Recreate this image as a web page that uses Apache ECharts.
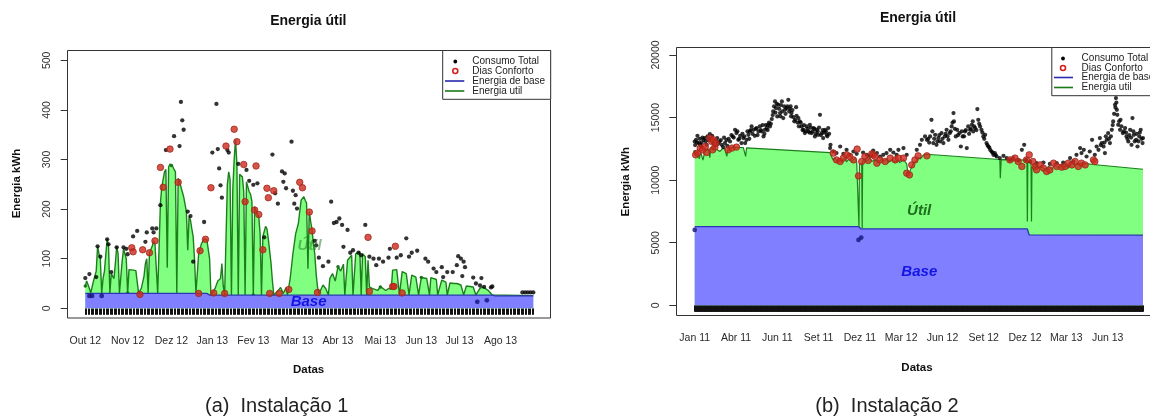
<!DOCTYPE html>
<html><head><meta charset="utf-8">
<script src="https://cdn.jsdelivr.net/npm/echarts@6/dist/echarts.min.js"></script>
<style>html,body{margin:0;padding:0;background:#fff}#c{width:1150px;height:417px}</style>
</head><body><div id="c"></div>
<script>
const FONT = "'Liberation Sans', Arial, Helvetica, sans-serif";

// ---------------- Panel (a): Instalação 1 (daily, Oct 2012 - Aug 2013) ----------------
const nDaysA = 329;
const tickIdxA = [0, 31, 63, 93, 123, 155, 185, 216, 246, 274, 304];
const tickLabelsA = ['Out 12','Nov 12','Dez 12','Jan 13','Fev 13','Mar 13','Abr 13','Mai 13','Jun 13','Jul 13','Ago 13'];
const baseA = [[0,30],[89,30],[91,26.5],[298,26.5],[300,25],[328,25]];
const utilA = [[0,45],[1,55],[3,40],[4,31],[6,55],[8,75],[9,125],[10,110],[11,100],[12,31],[13,60],[14,75],[16,140],[17,125],[18,31],[19,70],[21,60],[22,90],[23,125],[24,110],[25,31],[27,95],[28,120],[29,120],[30,100],[31,31],[32,78],[35,77],[37,76],[38,75],[39,31],[41,40],[43,65],[44,90],[45,100],[46,31],[47,112],[49,125],[50,136],[51,130],[52,80],[53,31],
[54,31],[55,212],[56,245],[57,260],[58,275],[59,280],[60,82],[61,285],[62,291],[63,288],[64,286],[65,280],[66,275],[67,31],[68,262],[69,255],[70,245],[72,225],[74,195],[75,117],[76,185],[77,178],[78,160],[79,144],[80,97],[81,31],
[82,31],[83,110],[85,130],[87,140],[89,138],[90,135],[91,100],[92,27],[95,40],[97,55],[99,60],[100,90],[101,45],[102,27],
[103,27],[104,250],[105,275],[106,260],[107,27],[108,240],[109,300],[110,340],[111,290],[112,27],[113,270],[115,265],[116,235],[117,27],[118,255],[120,235],[121,230],[122,215],[123,27],[124,205],[126,190],[127,185],[128,150],[129,27],[130,145],[132,165],[133,160],[134,140],[136,90],[137,55],[138,27],
[139,27],[141,35],[143,42],[145,30],[147,42],[148,27],[150,60],[152,110],[154,150],[156,171],[158,218],[159,222],[160,225],[161,218],[162,212],[163,80],[164,195],[165,175],[166,158],[167,130],[168,110],[169,70],[170,43],[171,30],
[172,35],[174,47],[176,40],[178,27],[179,60],[181,70],[183,55],[185,84],[187,75],[189,89],[190,27],[192,97],[195,107],[196,27],[198,110],[201,114],[202,27],[203,110],[205,104],[206,27],[207,97],[208,43],
[210,40],[212,38],[214,36],[216,43],[218,40],[220,36],[222,40],[224,38],
[225,77],[228,78],[230,27],[232,74],[235,70],[237,27],[239,67],[242,63],[244,27],
[246,62],[250,60],[252,27],[253,62],[257,58],[258,27],[261,57],[264,53],[265,27],[267,51],[270,50],
[272,50],[275,47],[277,27],[279,45],[284,43],[286,27],[289,40],[291,43],[295,36],[298,27],[299,26],[328,25.5]];
const consumoA = [[0,61],[3,69],[8,63],[9,125],[11,104],[16,139],[17,129],[19,73],[23,123],[28,123],[30,120],[31,109],[35,145],[38,156],[44,134],[45,153],[49,161],[50,153],[52,161],[55,208],[59,319],[65,347],[69,327],[70,416],[71,379],[72,360],[75,195],[77,186],[79,94],[87,174],[93,314],[96,412],[97,321],[98,282],[99,248],[100,223],[104,319],[105,314],[112,291],[118,279],[120,257],[123,249],[126,252],[131,143],[137,310],[139,232],[141,211],[144,276],[145,255],[146,272],[147,242],[151,336],[152,237],[153,211],[154,228],[155,201],[168,136],[169,127],[171,102],[174,85],[178,94],[180,215],[182,172],[184,174],[186,181],[188,168],[189,124],[192,158],[194,112],[196,117],[200,112],[202,107],[205,168],[208,104],[211,100],[213,87],[215,100],[218,94],[222,102],[223,120],[228,102],[231,107],[235,141],[237,104],[239,112],[243,116],[249,100],[251,94],[255,80],[257,73],[261,83],[262,63],[265,73],[269,73],[272,87],[273,105],[275,100],[276,65],[277,94],[278,83],[284,62],[286,50],[289,46],[290,61],[292,43],[297,42],[298,44],[320,32],[322,32],[324,32],[326,32],[328,32]];
const confortoA = [[34,122],[35,114],[40,28],[42,118],[47,112],[51,136],[55,284],[57,244],[62,321],[68,254],[83,30],[84,116],[88,139],[92,243],[94,31],[102,30],[103,327],[109,361],[111,336],[116,290],[117,215],[124,198],[125,287],[127,189],[130,118],[133,242],[134,223],[135,30],[138,237],[142,30],[149,38],[157,254],[159,243],[164,194],[166,156],[170,32],[207,143],[208,34],[225,44],[226,44],[227,125],[232,31]];
const baseDotsA = [[3,25],[5,25],[12,25],[287,13],[294,16]];

// ---------------- Panel (b): Instalação 2 (daily, Jan 2011 - Sep 2013) ----------------
const nDaysB = 978;
const tickIdxB = [0, 90, 180, 270, 360, 450, 540, 630, 720, 810, 900];
const tickLabelsB = ['Jan 11','Abr 11','Jun 11','Set 11','Dez 11','Mar 12','Jun 12','Set 12','Dez 12','Mar 13','Jun 13'];
const baseB = [[0,6290],[358,6290],[362,6100],[725,6100],[729,5620],[977,5600]];
const utilB = [[0,12290],[2,12100],[4,12000],[7,12300],[10,11700],[13,12250],[15,12200],[18,11600],[20,11550],[22,12300],[25,12450],[30,12500],[33,11800],[35,12550],[40,12500],[44,12600],[48,12450],[52,12550],[55,12300],[60,12500],[65,12550],[70,11900],[73,12600],[77,12650],[85,12620],[91,12630],[100,12610],[106,12600],[110,12600],[111,11900],[113,12580],[295,12200],[298,11900],[302,11600],[306,11800],[309,11500],[313,11700],[316,11750],[320,11450],[324,11600],[328,11800],[331,11450],[335,11650],[338,11700],[342,11500],[346,11650],[350,11800],[353,11500],[357,11400],[358,6300],[359,11300],[364,11300],[365,6150],[366,11500],[370,11700],[374,11500],[378,11650],[382,11750],[386,11500],[389,11400],[393,11600],[397,11700],[400,11450],[404,11600],[408,11700],[411,11500],[415,11600],[418,11700],[422,11400],[426,11550],[430,11650],[433,11600],[437,11450],[440,11500],[444,11600],[447,11400],[451,11550],[455,11650],[458,11600],[462,11300],[465,10500],[467,10450],[469,10700],[472,11000],[476,11300],[480,11400],[484,11600],[487,11800],[492,11700],[498,12000],[505,12050],[513,12050],[665,11650],[666,10150],[668,11640],[724,11600],[725,6700],[726,11500],[733,11400],[734,6700],[735,11000],[738,10900],[742,11200],[745,11300],[749,11000],[752,10850],[756,11150],[760,11100],[763,10800],[767,10800],[771,11100],[774,11200],[778,10850],[782,10900],[785,11200],[789,11300],[792,11000],[796,11100],[800,11250],[803,11000],[807,11100],[811,11200],[814,10950],[818,10900],[822,11400],[826,11250],[829,11200],[833,11350],[836,11300],[840,11200],[847,11400],[852,11300],[858,11300],[862,11350],[868,11250],[871,11250],[872,11100],[977,10870]];
const consumoB = [[0,13090],[1,12800],[3,13220],[5,13000],[6,13540],[9,12960],[11,13300],[12,12820],[14,12700],[15,13010],[17,13400],[19,13220],[22,13360],[24,13100],[26,12820],[28,13500],[30,13220],[33,13680],[35,13300],[38,13540],[40,13000],[41,13220],[44,12740],[47,13100],[49,13360],[51,12900],[54,13090],[57,13200],[59,12820],[62,12640],[64,13400],[66,12960],[69,13200],[71,12740],[74,13300],[77,13090],[80,13600],[83,13490],[85,13400],[88,14020],[91,13760],[93,13900],[95,13220],[97,13300],[99,13540],[102,12960],[104,13700],[106,13360],[108,13500],[110,12960],[113,13220],[115,13900],[117,13620],[119,13300],[120,13890],[122,14000],[124,14290],[126,13700],[128,14020],[131,13540],[133,14100],[135,14160],[137,13600],[139,13890],[142,14290],[144,14000],[146,13890],[148,14400],[150,13490],[152,13700],[153,14020],[155,14400],[157,14160],[159,14000],[160,14420],[162,14600],[164,14290],[166,14500],[168,14880],[170,15200],[171,15490],[173,15900],[175,16290],[176,15400],[177,15760],[179,16100],[180,15090],[182,16020],[184,15700],[186,15360],[187,15100],[188,16000],[190,16290],[191,15500],[193,14960],[195,15900],[197,15620],[198,15300],[200,15760],[202,15900],[204,16420],[206,15490],[207,15700],[209,15890],[210,15100],[211,15360],[213,15600],[215,15040],[217,14700],[219,14820],[221,15830],[222,15140],[224,14600],[226,14960],[227,14300],[229,14690],[231,14600],[233,14290],[235,14000],[237,14020],[238,14400],[240,13760],[242,13900],[244,14290],[246,14100],[248,13890],[250,13800],[251,14420],[253,14200],[255,13760],[257,13900],[259,14160],[261,14100],[262,13490],[264,13700],[266,14020],[268,13900],[269,13620],[271,14200],[273,15220],[275,13600],[277,13760],[279,14000],[280,13360],[282,13800],[284,14020],[286,13900],[288,13620],[289,13500],[291,14160],[293,13700],[295,12560],[296,12820],[302,12290],[309,12160],[317,12690],[324,12100],[331,12420],[338,12020],[346,12290],[353,12100],[367,12210],[375,12020],[382,11940],[389,12370],[397,12160],[404,11890],[411,12020],[418,12160],[426,12420],[433,12210],[440,12020],[444,12420],[455,12560],[462,12020],[484,12420],[491,12820],[495,13220],[502,13490],[506,13220],[509,13300],[511,13000],[513,13490],[516,14820],[518,13900],[520,12960],[522,13300],[524,13620],[527,12820],[529,13100],[531,13360],[533,13600],[535,13090],[538,13760],[540,13300],[542,12960],[545,13490],[547,13700],[549,14020],[551,13500],[553,13220],[556,13760],[558,13900],[560,14290],[562,14600],[564,15360],[565,14690],[567,14100],[569,13490],[572,14020],[574,13600],[577,13760],[580,12690],[582,13900],[584,13490],[587,13500],[589,13890],[591,14000],[593,12560],[596,14290],[598,13700],[600,14020],[602,14100],[604,14420],[606,14700],[607,13890],[609,14300],[611,14160],[614,14000],[616,15680],[618,14820],[620,14500],[622,14290],[625,14020],[627,13800],[629,13490],[631,13300],[633,13620],[636,12960],[638,12800],[640,12690],[642,12600],[644,12420],[647,12290],[649,12200],[651,12020],[654,12160],[656,12000],[658,11890],[665,11760],[673,11940],[680,11760],[687,11620],[694,11760],[705,11570],[713,12420],[718,12820],[722,11620],[731,11490],[745,11360],[760,11410],[774,11300],[789,11360],[803,11410],[818,11760],[825,11490],[832,12020],[840,12560],[843,12160],[848,12420],[854,11890],[861,12290],[866,13220],[872,12020],[876,12690],[880,12420],[883,13360],[885,12800],[887,12960],[891,12690],[893,13000],[894,12160],[896,13500],[898,13220],[901,13760],[903,13300],[905,12960],[907,13500],[909,14020],[911,14400],[912,14690],[914,15300],[916,16020],[917,15800],[918,16560],[919,16200],[920,15620],[921,15220],[923,14420],[925,14700],[927,14020],[928,14820],[930,14300],[933,13760],[935,13900],[938,14160],[940,13800],[941,13490],[943,13300],[945,13090],[947,13600],[949,14020],[951,13400],[952,12820],[954,14960],[956,13900],[957,13620],[959,13100],[962,13220],[963,13700],[965,12690],[967,13100],[969,13490],[970,13800],[972,14020],[974,13300],[976,12960],[977,13360]];
const confortoB = [[2,12020],[6,12160],[12,12560],[17,12420],[23,12690],[26,12210],[33,13360],[37,13090],[39,12420],[41,13220],[44,12640],[46,12960],[73,12420],[81,12560],[91,12640],[302,12160],[309,11620],[317,11490],[324,11760],[331,12020],[338,11890],[346,11620],[354,12480],[357,10340],[364,11490],[371,11890],[378,11570],[386,12100],[389,12020],[393,11890],[397,11360],[404,11620],[415,11490],[426,11760],[437,11620],[444,11760],[455,11760],[462,10560],[468,10420],[473,11220],[480,11620],[487,11940],[506,11940],[687,11620],[698,11760],[705,11490],[713,11090],[723,11620],[729,12020],[737,11490],[742,11090],[745,10820],[753,11220],[760,10960],[767,10690],[774,10820],[782,11360],[789,11090],[800,11040],[807,11090],[814,11360],[822,11220],[829,11490],[836,11090],[843,11360],[851,11220],[869,11620],[872,11490]];
const baseDotsB = [[0,6024],[357,5220],[363,5410]];

// ---------------- build ----------------
const catsA = Array.from({length: nDaysA}, (_, i) => i);
const catsB = Array.from({length: nDaysB}, (_, i) => i);
const mapA = {}; tickIdxA.forEach((d, i) => mapA[d] = tickLabelsA[i]);
const mapB = {}; tickIdxB.forEach((d, i) => mapB[d] = tickLabelsB[i]);

const C = {
  baseFill: '#7f7fff', baseLine: '#2a36b4', utilFill: '#80ff80', utilLine: '#1c7f1c',
  utilDot: '#1a741a', cons: '#000000', conf: '#d0281e', confEdge: '#9e2a1c', baseDot: '#14147a'
};

function xAxisCfg(grid, cats, map, offset) {
  return {
    gridIndex: grid, type: 'category', data: cats, boundaryGap: false, offset: offset,
    axisLine: {show: false}, splitLine: {show: false},
    axisTick: {show: true, interval: 0, length: 6.5, lineStyle: {color: '#111', width: 1}},
    axisLabel: {
      interval: (i) => map[i] !== undefined,
      formatter: (v, i) => map[i] || '',
      fontFamily: FONT, fontSize: 10.5, color: '#2a2a2a', margin: 17
    }
  };
}
function yAxisCfg(grid, max, interval, offset) {
  return {
    gridIndex: grid, type: 'value', min: 0, max: max, interval: interval, offset: offset,
    axisLine: {show: false}, splitLine: {show: false},
    axisTick: {show: true, length: 7, lineStyle: {color: '#333'}},
    axisLabel: {rotate: 90, fontFamily: FONT, fontSize: 10.5, color: '#333', margin: 15,
                formatter: (v) => String(v)}
  };
}
function panelSeries(ax, util, base, baseDots, cons, conf, sz) {
  return [
    {type: 'line', xAxisIndex: ax, yAxisIndex: ax, data: util, z: 2,
     lineStyle: {color: C.utilLine, width: sz.lw}, areaStyle: {color: C.utilFill, opacity: 1},
     showSymbol: true, symbol: 'circle', symbolSize: sz.util, itemStyle: {color: C.utilDot}},
    {type: 'line', xAxisIndex: ax, yAxisIndex: ax, data: base, z: 3,
     lineStyle: {color: C.baseLine, width: 1.3}, areaStyle: {color: C.baseFill, opacity: 1},
     showSymbol: false},
    {type: 'scatter', xAxisIndex: ax, yAxisIndex: ax, data: baseDots, z: 4,
     symbolSize: sz.cons + 0.5, itemStyle: {color: C.baseDot}},
    {type: 'scatter', xAxisIndex: ax, yAxisIndex: ax, data: cons, z: 5,
     symbolSize: sz.cons, itemStyle: {color: C.cons}},
    {type: 'scatter', xAxisIndex: ax, yAxisIndex: ax, data: conf, z: 6,
     symbolSize: sz.conf, itemStyle: {color: C.conf, borderColor: C.confEdge, borderWidth: 1}}
  ];
}

function text(x, y, str, font, fill, extra) {
  const el = {type: 'text', x: x, y: y, z: 120,
    style: {text: str, font: font, fill: fill, align: 'center', verticalAlign: 'middle'}};
  if (extra) {
    if (extra.rotation !== undefined) el.rotation = extra.rotation;
    if (extra.align) el.style.align = extra.align;
  }
  return el;
}
function legend(x0, y0, w, h, symX, lx1, lx2, tx, rows) {
  const f = "10px " + FONT;
  return [
    {type: 'rect', z: 110, shape: {x: x0, y: y0, width: w, height: h}, style: {fill: '#fff', stroke: '#333', lineWidth: 1}},
    {type: 'circle', z: 111, shape: {cx: symX, cy: rows[0], r: 1.9}, style: {fill: '#000'}},
    {type: 'circle', z: 111, shape: {cx: symX, cy: rows[1], r: 2.5}, style: {fill: 'none', stroke: '#d42020', lineWidth: 1.6}},
    {type: 'line', z: 111, shape: {x1: lx1, y1: rows[2], x2: lx2, y2: rows[2]}, style: {stroke: '#2a2ab0', lineWidth: 1.6}},
    {type: 'line', z: 111, shape: {x1: lx1, y1: rows[3], x2: lx2, y2: rows[3]}, style: {stroke: '#1a781a', lineWidth: 1.6}},
    text(tx, rows[0], 'Consumo Total', f, '#222', {align: 'left'}),
    text(tx, rows[1], 'Dias Conforto', f, '#222', {align: 'left'}),
    text(tx, rows[2], 'Energia de base', f, '#222', {align: 'left'}),
    text(tx, rows[3], 'Energia util', f, '#222', {align: 'left'})
  ];
}

const chart = echarts.init(document.getElementById('c'), null, {renderer: 'canvas'});
const option = {
  animation: false,
  backgroundColor: '#fff',
  grid: [
    {left: 85.3, top: 60.3, width: 448, height: 248},
    {left: 694.7, top: 55, width: 448.3, height: 250.3}
  ],
  xAxis: [xAxisCfg(0, catsA, mapA, 10.5), xAxisCfg(1, catsB, mapB, 10.5)],
  yAxis: [yAxisCfg(0, 500, 100, 17.6), yAxisCfg(1, 20000, 5000, 18.4)],
  series: [].concat(
    panelSeries(0, utilA, baseA, baseDotsA, consumoA, confortoA, {util: 3.5, cons: 4.3, conf: 6.5, lw: 1.4}),
    panelSeries(1, utilB, baseB, baseDotsB, consumoB, confortoB, {util: 3, cons: 4.2, conf: 6.5, lw: 1.2})
  ),
  graphic: {elements: [].concat(
    [
      {type: 'rect', z: 100, shape: {x: 67.5, y: 50.5, width: 483, height: 267.5}, style: {fill: 'none', stroke: '#333', lineWidth: 1}},
      {type: 'rect', z: 100, shape: {x: 676.5, y: 47.5, width: 520, height: 268}, style: {fill: 'none', stroke: '#333', lineWidth: 1}},
      text(308.3, 21.5, 'Energia útil', "bold 14px " + FONT, '#111'),
      text(918, 18.5, 'Energia útil', "bold 14px " + FONT, '#111'),
      text(308.6, 370, 'Datas', "bold 11.5px " + FONT, '#111'),
      text(917, 368, 'Datas', "bold 11.5px " + FONT, '#111'),
      text(16.5, 183.5, 'Energia kWh', "bold 11.5px " + FONT, '#111', {rotation: Math.PI / 2}),
      text(625.7, 181.7, 'Energia kWh', "bold 11.5px " + FONT, '#111', {rotation: Math.PI / 2}),
      text(308.6, 302.3, 'Base', "italic bold 15px " + FONT, '#1414e6'),
      text(919.3, 271.7, 'Base', "italic bold 15px " + FONT, '#1414e6'),
      text(309.7, 246, 'Útil', "italic bold 15px " + FONT, 'rgba(30,120,30,0.5)'),
      text(919.2, 210.7, 'Útil', "italic bold 15px " + FONT, '#1e6e1e'),
      text(276.7, 406, '(a)  Instalação 1', "20px " + FONT, '#222'),
      text(887, 406, '(b)  Instalação 2', "20px " + FONT, '#222')
    ],
    legend(442.7, 50.5, 108, 48.8, 455.3, 445, 464.3, 472.3, [61.5, 71, 81, 91]),
    legend(1051.8, 47.5, 200, 48.2, 1063, 1054, 1073, 1081.6, [58.5, 68, 77.5, 87.5])
  )}
};
chart.setOption(option);
</script>
</body></html>
